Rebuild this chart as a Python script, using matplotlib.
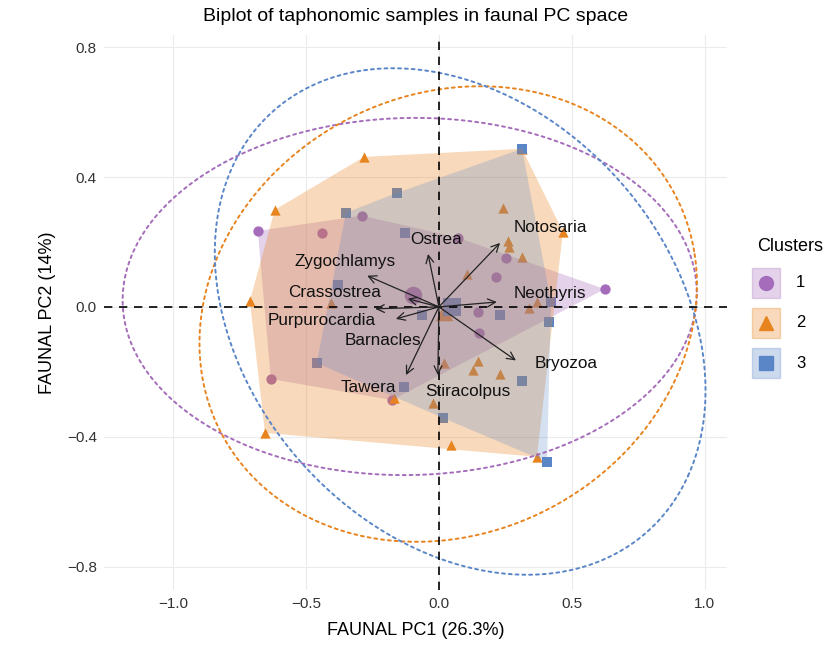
import numpy as np
import matplotlib
matplotlib.use("Agg")
import matplotlib.pyplot as plt
from matplotlib.patches import Rectangle

plt.rcParams['font.family'] = ['Liberation Sans', 'DejaVu Sans']

# sample scores on the first two faunal PCs, by cluster
c1_x = [-0.682, -0.441, -0.290, 0.072, 0.252, 0.215, 0.625, 0.147, 0.151, -0.633, -0.177]
c1_y = [0.234, 0.228, 0.281, 0.213, 0.151, 0.093, 0.055, -0.015, -0.080, -0.222, -0.287]

c2_x = [-0.712, -0.407, -0.618, -0.282, 0.313, 0.241, 0.260, 0.264, 0.313, 0.105, 0.467,
        0.369, 0.339, 0.019, 0.147, 0.128, 0.230, -0.023, -0.169, 0.045, 0.369, -0.655]
c2_y = [0.018, 0.012, 0.299, 0.462, 0.487, 0.305, 0.203, 0.185, 0.154, 0.102, 0.231,
        0.015, -0.003, -0.173, -0.166, -0.194, -0.207, -0.296, -0.281, -0.425, -0.462, -0.388]

c3_x = [0.313, -0.158, -0.350, -0.128, -0.380, -0.064, 0.230, 0.422, 0.414, 0.313,
        0.015, 0.407, -0.132, -0.460]
c3_y = [0.487, 0.351, 0.290, 0.228, 0.068, -0.025, -0.025, 0.015, -0.046, -0.228,
        -0.342, -0.478, -0.247, -0.173]

# cluster centres
mean_x = [-0.098, 0.020, 0.049]
mean_y = [0.037, -0.015, 0.000]

# 95% ellipse per cluster: centre, semi-axes, rotation (deg)
ell_cx = [-0.110, 0.035, 0.080]
ell_cy = [0.032, -0.022, -0.045]
ell_a = [1.081, 0.946, 0.981]
ell_b = [0.550, 0.689, 0.707]
ell_ang = [0.8, 11.8, -29.0]

# species loadings
species = ["Ostrea", "Notosaria", "Zygochlamys", "Crassostrea", "Purpurocardia",
           "Barnacles", "Neothyris", "Bryozoa", "Stiracolpus", "Tawera"]
load_x = [-0.041, 0.230, -0.270, -0.117, -0.240, -0.162, 0.218, 0.290, -0.004, -0.124]
load_y = [0.163, 0.197, 0.096, 0.025, -0.006, -0.037, 0.015, -0.165, -0.210, -0.210]
lab_x = [-0.011, 0.418, -0.354, -0.392, -0.440, -0.211, 0.418, 0.478, 0.109, -0.267]
lab_y = [0.207, 0.244, 0.139, 0.043, -0.043, -0.105, 0.040, -0.173, -0.262, -0.247]

cluster_names = ["1", "2", "3"]
colors = ["#A46CBA", "#E8841F", "#5A86C8"]
markers = ["o", "^", "s"]
hull_alpha = [0.3, 0.3, 0.25]


def convex_hull(xs, ys):
    pts = sorted(set(zip(xs, ys)))

    def cross(o, a, b):
        return (a[0] - o[0]) * (b[1] - o[1]) - (a[1] - o[1]) * (b[0] - o[0])

    lower, upper = [], []
    for p in pts:
        while len(lower) >= 2 and cross(lower[-2], lower[-1], p) <= 0:
            lower.pop()
        lower.append(p)
    for p in reversed(pts):
        while len(upper) >= 2 and cross(upper[-2], upper[-1], p) <= 0:
            upper.pop()
        upper.append(p)
    return np.array(lower[:-1] + upper[:-1])


def ellipse_path(cx, cy, a, b, ang):
    t = np.linspace(0, 2 * np.pi, 300)
    th = np.deg2rad(ang)
    x = cx + a * np.cos(t) * np.cos(th) - b * np.sin(t) * np.sin(th)
    y = cy + a * np.cos(t) * np.sin(th) + b * np.sin(t) * np.cos(th)
    return x, y


fig = plt.figure(figsize=(8.3, 6.57), dpi=100)
ax = fig.add_axes([0.125, 0.102, 0.751, 0.845])

clusters = [(c1_x, c1_y), (c2_x, c2_y), (c3_x, c3_y)]

for i, (xs, ys) in enumerate(clusters):
    ax.scatter(xs, ys, s=55, marker=markers[i], color=colors[i], linewidths=0, zorder=2)
    ax.scatter(mean_x[i], mean_y[i], s=160, marker=markers[i], color=colors[i],
               linewidths=0, zorder=2)

# convex hulls laid over the points
for i, (xs, ys) in enumerate(clusters):
    hull = convex_hull(xs, ys)
    ax.fill(hull[:, 0], hull[:, 1], color=colors[i], alpha=hull_alpha[i], lw=0, zorder=3)

for i in range(3):
    ex, ey = ellipse_path(ell_cx[i], ell_cy[i], ell_a[i], ell_b[i], ell_ang[i])
    ax.plot(ex, ey, color=colors[i], lw=1.4, ls=(0, (1.5, 2)),
            dash_capstyle="round", zorder=4)

ax.axhline(0, color="black", lw=1.2, ls=(0, (5, 4)), zorder=4)
ax.axvline(0, color="black", lw=1.2, ls=(0, (5, 4)), zorder=4)

for i, name in enumerate(species):
    ax.annotate("", xy=(load_x[i], load_y[i]), xytext=(0, 0),
                arrowprops=dict(arrowstyle="->", color="#222222", lw=0.9,
                                mutation_scale=14, shrinkA=0, shrinkB=0),
                zorder=5)
    ax.text(lab_x[i], lab_y[i], name, fontsize=12.3, ha="center", va="center",
            color="#111111", zorder=6)

ax.set_xlim(-1.262, 1.085)
ax.set_ylim(-0.872, 0.838)
ax.set_xticks([-1.0, -0.5, 0.0, 0.5, 1.0])
ax.set_yticks([-0.8, -0.4, 0.0, 0.4, 0.8])
ax.set_xticklabels(["\u22121.0", "\u22120.5", "0.0", "0.5", "1.0"])
ax.set_yticklabels(["\u22120.8", "\u22120.4", "0.0", "0.4", "0.8"])
ax.grid(True, color="#EBEBEB", lw=0.8, zorder=0)
ax.set_axisbelow(True)
for sp in ax.spines.values():
    sp.set_visible(False)
ax.tick_params(length=0, labelsize=11, labelcolor="#333333", pad=5)
ax.set_xlabel("FAUNAL PC1 (26.3%)", fontsize=13, labelpad=8)
ax.set_ylabel("FAUNAL PC2 (14%)", fontsize=13, labelpad=8)
ax.set_title("Biplot of taphonomic samples in faunal PC space", fontsize=14, pad=10)

# legend keys: tinted box with the cluster marker
fig.text(0.952, 0.625, "Clusters", fontsize=13, ha="center", va="center")
for i in range(3):
    ytop = 1 - (268 + 40 * i) / 657
    box = Rectangle((752 / 830, ytop - 30 / 657), 28 / 830, 30 / 657,
                    transform=fig.transFigure, facecolor=colors[i], alpha=0.3,
                    edgecolor=colors[i], lw=1)
    fig.patches.append(box)
    fig.lines.append(plt.Line2D([766 / 830], [ytop - 15 / 657], marker=markers[i],
                                markersize=10, color=colors[i], lw=0,
                                transform=fig.transFigure))
    fig.text(796 / 830, ytop - 15 / 657, cluster_names[i], fontsize=12,
             ha="left", va="center")

fig.savefig("out.png", dpi=100)
